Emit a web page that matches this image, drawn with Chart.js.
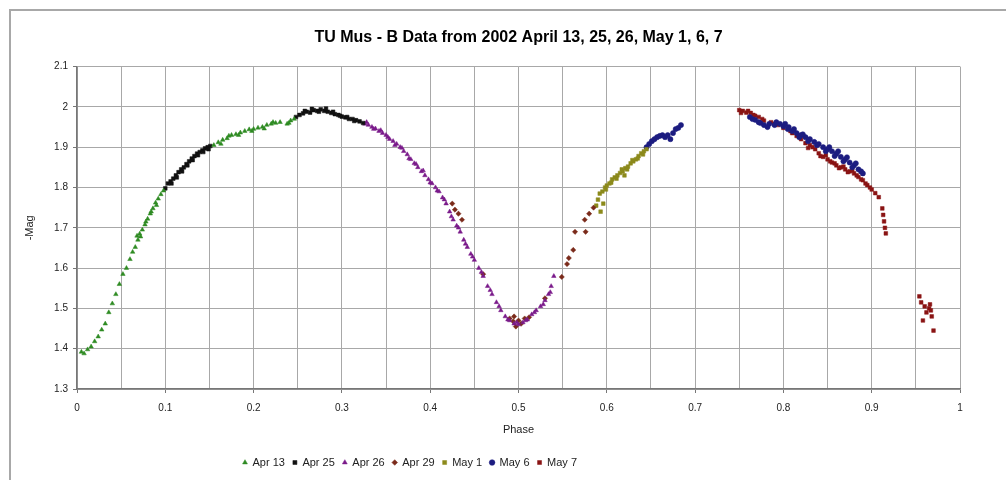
<!DOCTYPE html>
<html>
<head>
<meta charset="utf-8">
<script src="https://cdn.jsdelivr.net/npm/chart.js@4.4.1/dist/chart.umd.min.js"></script>
<style>
  body { margin: 0; background: #fff; }
  #frame { position: absolute; left: 9px; top: 9px; width: 1020px; height: 500px; border: 2px solid #a8a8a8; }
  #wrap { position: absolute; left: 0; top: 0; width: 1006px; height: 480px; }
</style>
</head>
<body>
<div id="frame"></div>
<div id="wrap"><canvas id="lc"></canvas></div>
<script>
// phase / -mag pairs, one list per night
const seriesNames = ["Apr 13", "Apr 25", "Apr 26", "Apr 29", "May 1", "May 6", "May 7"];

const apr13 = [
  [0.005,1.392],[0.008,1.388],[0.012,1.398],[0.016,1.405],[0.02,1.418],[0.024,1.43],[0.028,1.447],
  [0.032,1.462],[0.036,1.49],[0.04,1.512],[0.044,1.535],[0.048,1.56],[0.052,1.585],[0.056,1.6],
  [0.06,1.622],[0.063,1.64],[0.066,1.652],[0.069,1.67],[0.071,1.685],[0.074,1.695],[0.077,1.708],
  [0.08,1.722],[0.083,1.735],[0.086,1.748],[0.089,1.762],[0.092,1.772],[0.095,1.783],[0.098,1.792],
  [0.068,1.68],[0.072,1.678],[0.078,1.715],[0.084,1.74],[0.09,1.756],
  [0.155,1.905],[0.16,1.912],[0.165,1.918],[0.17,1.922],[0.175,1.93],[0.18,1.932],[0.185,1.936],
  [0.19,1.94],[0.195,1.944],[0.2,1.945],[0.205,1.948],[0.21,1.95],[0.215,1.955],[0.22,1.958],
  [0.225,1.96],[0.23,1.962],[0.238,1.958],[0.242,1.966],[0.246,1.97],
  [0.163,1.908],[0.172,1.928],[0.183,1.93],[0.198,1.94],[0.212,1.946],[0.222,1.962],[0.24,1.96]
];
const apr25 = [
  [0.1,1.798],[0.103,1.81],[0.106,1.815],[0.109,1.822],[0.112,1.83],[0.115,1.838],[0.118,1.845],
  [0.121,1.85],[0.124,1.858],[0.127,1.865],[0.13,1.872],[0.133,1.878],[0.136,1.884],[0.139,1.888],
  [0.142,1.892],[0.145,1.897],[0.148,1.9],[0.151,1.903],
  [0.107,1.81],[0.113,1.825],[0.119,1.84],[0.125,1.855],[0.131,1.868],[0.137,1.88],[0.143,1.888],
  [0.149,1.895],
  [0.248,1.975],[0.252,1.98],[0.256,1.984],[0.26,1.988],[0.264,1.986],[0.268,1.992],[0.272,1.99],
  [0.276,1.994],[0.28,1.99],[0.284,1.988],[0.288,1.985],[0.292,1.982],[0.296,1.98],[0.3,1.976],
  [0.304,1.974],[0.308,1.97],[0.312,1.97],[0.316,1.967],[0.32,1.964],[0.324,1.96],
  [0.258,1.99],[0.266,1.995],[0.274,1.988],[0.282,1.996],[0.29,1.988],[0.298,1.978],[0.306,1.975],
  [0.314,1.965]
];
const apr26 = [
  [0.326,1.958],[0.33,1.955],[0.334,1.95],[0.338,1.946],[0.342,1.94],[0.346,1.935],[0.35,1.93],
  [0.354,1.92],[0.358,1.915],[0.362,1.908],[0.366,1.9],[0.37,1.89],[0.374,1.882],[0.378,1.87],
  [0.382,1.86],[0.386,1.85],[0.39,1.84],[0.394,1.83],[0.398,1.82],[0.402,1.81],[0.406,1.8],
  [0.41,1.79],[0.414,1.775],[0.418,1.76],[0.422,1.74],[0.426,1.72],[0.43,1.705],[0.434,1.69],
  [0.438,1.67],[0.442,1.652],[0.446,1.635],[0.45,1.62],[0.455,1.6],[0.46,1.58],[0.465,1.555],
  [0.47,1.535],[0.475,1.515],[0.48,1.495],[0.485,1.48],[0.49,1.47],[0.495,1.462],[0.5,1.46],
  [0.505,1.465],[0.51,1.472],[0.515,1.485],[0.52,1.495],[0.525,1.505],[0.53,1.52],[0.534,1.535],
  [0.537,1.555],[0.54,1.58],
  [0.328,1.962],[0.336,1.945],[0.344,1.942],[0.352,1.925],[0.36,1.905],[0.368,1.898],[0.376,1.872],
  [0.384,1.858],[0.392,1.842],[0.4,1.812],[0.408,1.792],[0.416,1.77],[0.424,1.728],[0.432,1.7],
  [0.44,1.66],[0.448,1.628],[0.458,1.59],[0.468,1.545],[0.478,1.505],[0.488,1.472],[0.498,1.465],
  [0.508,1.47],[0.518,1.49],[0.528,1.51],[0.536,1.54]
];
const apr29 = [
  [0.425,1.76],[0.428,1.745],[0.432,1.735],[0.436,1.72],[0.46,1.585],[0.49,1.475],[0.494,1.468],
  [0.497,1.455],[0.5,1.47],[0.503,1.462],[0.507,1.475],[0.495,1.48],[0.512,1.478],[0.53,1.525],
  [0.549,1.578],[0.555,1.61],[0.557,1.625],[0.562,1.645],[0.564,1.69],[0.576,1.69],[0.575,1.72],
  [0.58,1.735],[0.585,1.75]
];
const may1 = [
  [0.588,1.755],[0.59,1.77],[0.592,1.785],[0.595,1.79],[0.598,1.8],[0.6,1.805],[0.603,1.81],
  [0.606,1.82],[0.609,1.825],[0.612,1.83],[0.615,1.836],[0.618,1.84],[0.621,1.848],[0.624,1.852],
  [0.627,1.86],[0.63,1.865],[0.633,1.87],[0.636,1.878],[0.639,1.885],[0.642,1.89],[0.645,1.895],
  [0.593,1.74],[0.596,1.76],[0.62,1.83],
  [0.599,1.795],[0.605,1.812],[0.611,1.822],[0.617,1.845],[0.623,1.845],[0.629,1.868],[0.635,1.872],
  [0.641,1.882]
];
const may6 = [
  [0.645,1.9],[0.648,1.908],[0.651,1.915],[0.654,1.92],[0.657,1.925],[0.66,1.928],[0.663,1.93],
  [0.666,1.925],[0.669,1.93],[0.672,1.92],[0.675,1.935],[0.678,1.945],[0.681,1.948],[0.684,1.955],
  [0.762,1.975],[0.768,1.968],[0.774,1.96],[0.778,1.955],[0.784,1.958],[0.79,1.955],[0.796,1.958],
  [0.8,1.952],[0.805,1.945],[0.81,1.94],[0.815,1.935],[0.82,1.93],[0.825,1.925],[0.83,1.92],
  [0.835,1.913],[0.84,1.908],[0.845,1.9],[0.85,1.895],[0.855,1.89],[0.86,1.884],[0.865,1.876],
  [0.87,1.87],[0.875,1.862],[0.88,1.855],[0.885,1.845],[0.89,1.835],
  [0.765,1.97],[0.772,1.962],[0.782,1.95],[0.792,1.962],[0.802,1.958],[0.812,1.945],[0.818,1.925],
  [0.828,1.915],[0.838,1.905],[0.848,1.89],[0.852,1.9],[0.858,1.878],[0.862,1.89],[0.868,1.865],
  [0.872,1.875],[0.878,1.85],[0.882,1.86],[0.888,1.84],[0.806,1.95],[0.822,1.932]
];
const may7 = [
  [0.75,1.992],[0.754,1.99],[0.758,1.986],[0.763,1.985],[0.768,1.978],[0.772,1.975],[0.778,1.966],
  [0.786,1.962],[0.794,1.955],[0.8,1.948],[0.808,1.94],[0.815,1.928],[0.82,1.92],[0.828,1.898],
  [0.83,1.905],[0.836,1.895],[0.84,1.885],[0.845,1.876],[0.85,1.87],[0.855,1.862],[0.86,1.855],
  [0.865,1.85],[0.87,1.845],[0.875,1.84],[0.88,1.835],[0.885,1.826],[0.89,1.818],[0.895,1.806],
  [0.9,1.795],[0.904,1.786],[0.908,1.776],[0.912,1.748],[0.913,1.732],[0.914,1.716],[0.915,1.7],
  [0.916,1.686],
  [0.752,1.985],[0.76,1.99],[0.766,1.98],[0.776,1.97],[0.79,1.958],[0.81,1.935],[0.825,1.91],
  [0.833,1.9],[0.842,1.878],[0.848,1.88],[0.853,1.865],[0.858,1.86],[0.863,1.848],[0.868,1.852],
  [0.873,1.838],[0.878,1.842],[0.883,1.83],[0.888,1.82],[0.893,1.81],[0.898,1.8],
  [0.954,1.53],[0.956,1.515],[0.958,1.47],[0.96,1.505],[0.962,1.49],[0.965,1.5],[0.967,1.495],
  [0.968,1.48],[0.97,1.445],[0.966,1.51]
];

const seriesData = [apr13, apr25, apr26, apr29, may1, may6, may7];
const seriesColors = ["#2e8b22", "#111111", "#7a1a8a", "#7a2a1a", "#8c8a1c", "#1c1c80", "#8a1414"];
const seriesShapes = ["triangle", "rect", "triangle", "rectRot", "rect", "circle", "rect"];

const yTicks = [1.3, 1.4, 1.5, 1.6, 1.7, 1.8, 1.9, 2.0, 2.1];

const FONT = "'Liberation Sans', Arial, sans-serif";

const datasets = seriesNames.map((name, i) => ({
  label: name,
  data: seriesData[i].map(p => ({x: p[0], y: p[1]})),
  backgroundColor: seriesColors[i],
  borderColor: seriesColors[i],
  borderWidth: 0.5,
  pointStyle: seriesShapes[i],
  pointRadius: 2.6,
  showLine: false
}));

// move title and legend to where the original sits
const placeBoxes = {
  id: "placeBoxes",
  beforeDraw(chart) {
    const t = chart.titleBlock;
    if (t) { t.left = 77; t.right = 960; }
    const l = chart.legend;
    if (l) { l.left = 150; l.right = 670; }
  }
};

new Chart(document.getElementById("lc"), {
  type: "scatter",
  data: { datasets: datasets },
  plugins: [placeBoxes],
  options: {
    responsive: true,
    maintainAspectRatio: false,
    animation: false,
    layout: { padding: { left: 0, right: 46, top: 0, bottom: 2 } },
    plugins: {
      title: {
        display: true,
        text: "TU Mus - B Data from 2002 April 13, 25, 26, May 1, 6, 7",
        color: "#000",
        font: { family: FONT, size: 16, weight: "bold" },
        padding: { top: 28, bottom: 19.4 }
      },
      legend: {
        position: "bottom",
        labels: {
          usePointStyle: true,
          boxWidth: 4,
          boxHeight: 4,
          padding: 8,
          color: "#222",
          font: { family: FONT, size: 11 }
        }
      },
      tooltip: { enabled: false }
    },
    scales: {
      x: {
        type: "linear",
        min: 0,
        max: 1,
        afterFit(scale) { scale.height = 60; },
        ticks: {
          stepSize: 0.05,
          autoSkip: false,
          maxRotation: 0,
          padding: 9,
          color: "#222",
          font: { family: FONT, size: 10 },
          callback: v => (Math.round(v * 20) % 2 === 0 ? String(Math.round(v * 10) / 10) : "")
        },
        grid: {
          color: "#a8a8a8",
          lineWidth: 1,
          tickLength: 4,
          tickColor: ctx => (Math.round(ctx.tick.value * 20) % 2 === 0 ? "#777" : "rgba(0,0,0,0)")
        },
        border: { color: "#777", width: 1.5 },
        title: {
          display: true,
          text: "Phase",
          color: "#222",
          font: { family: FONT, size: 11 },
          padding: { top: 0, bottom: 12 }
        }
      },
      y: {
        min: 1.3,
        max: 2.1,
        afterFit(scale) { scale.width = 77; },
        afterBuildTicks(scale) { scale.ticks = yTicks.map(v => ({value: v})); },
        ticks: {
          padding: 5,
          color: "#222",
          font: { family: FONT, size: 10 },
          callback: v => String(Math.round(v * 10) / 10)
        },
        grid: { color: "#a8a8a8", lineWidth: 1, tickLength: 4, tickColor: "#777" },
        border: { color: "#777", width: 1.5 },
        title: {
          display: true,
          text: "-Mag",
          color: "#222",
          font: { family: FONT, size: 11 },
          padding: { top: 23, bottom: 0 }
        }
      }
    }
  }
});
</script>
</body>
</html>
